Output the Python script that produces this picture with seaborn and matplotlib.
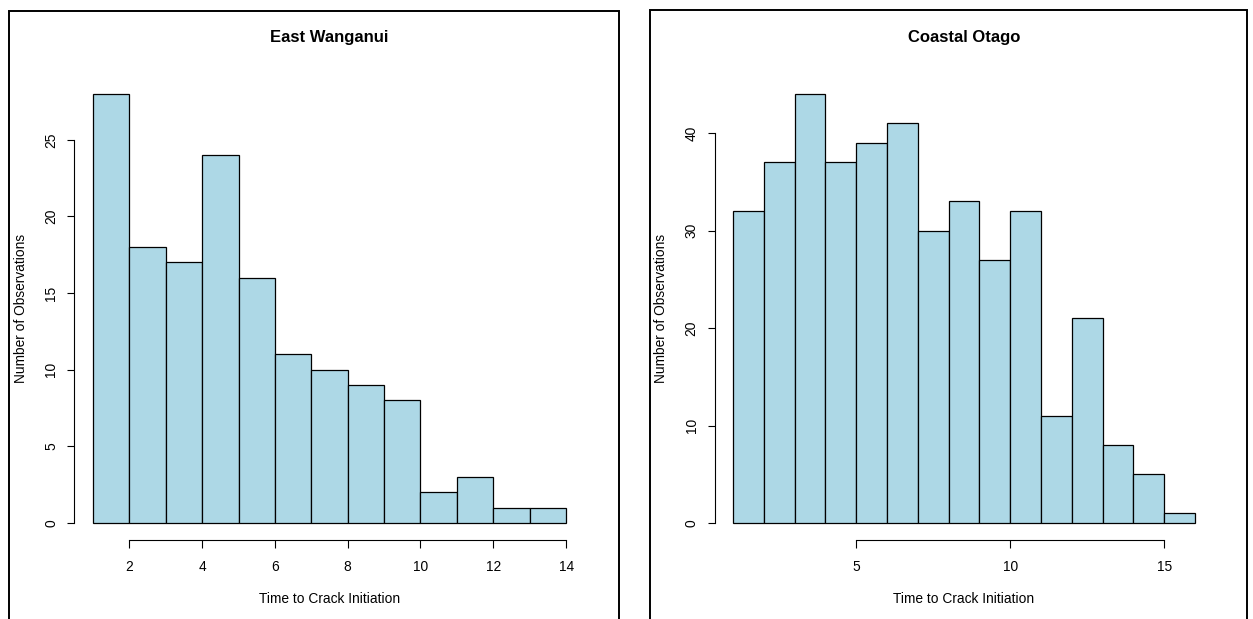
import matplotlib
matplotlib.use("Agg")
import matplotlib.pyplot as plt
from matplotlib.lines import Line2D
import seaborn as sns

# Bin edges (unit-width bins) and counts for each region
ew_edges = list(range(1, 15))
ew_counts = [28, 18, 17, 24, 16, 11, 10, 9, 8, 2, 3, 1, 1]
ew_xticks = [2, 4, 6, 8, 10, 12, 14]
ew_yticks = [0, 5, 10, 15, 20, 25]

co_edges = list(range(1, 17))
co_counts = [32, 37, 44, 37, 39, 41, 30, 33, 27, 32, 11, 21, 8, 5, 1]
co_xticks = [5, 10, 15]
co_yticks = [0, 10, 20, 30, 40]

titles = ["East Wanganui", "Coastal Otago"]
xlabel = "Time to Crack Initiation"
ylabel = "Number of Observations"

sns.set_theme(style="white")
plt.rcParams["font.family"] = ["Liberation Sans", "DejaVu Sans"]

W, H = 1253, 619
fig = plt.figure(figsize=(W / 100, H / 100), dpi=100)


def px_axes(left, right, top, bottom):
    return fig.add_axes([left / W, 1 - bottom / H, (right - left) / W, (bottom - top) / H])


def r_hist(ax, edges, counts, xticks, yticks, title, box):
    left, right, top, bottom = box
    centers = [(a + b) / 2 for a, b in zip(edges[:-1], edges[1:])]
    sns.histplot(x=centers, weights=counts, bins=edges, ax=ax,
                 color="#ADD8E6", edgecolor="black", linewidth=0.9, alpha=1)
    # R-style 4% padding of the data range
    xr = edges[-1] - edges[0]
    ymax = max(counts)
    ax.set_xlim(edges[0] - 0.04 * xr, edges[-1] + 0.04 * xr)
    ax.set_ylim(-0.04 * ymax, ymax * 1.04)
    for side in ("top", "right"):
        ax.spines[side].set_visible(False)
    for side in ("left", "bottom"):
        ax.spines[side].set_color("black")
        ax.spines[side].set_linewidth(0.8)
    ax.spines["bottom"].set_bounds(xticks[0], xticks[-1])
    ax.spines["left"].set_bounds(yticks[0], yticks[-1])
    ax.set_xticks(xticks)
    ax.set_yticks(yticks)
    ax.tick_params(axis="both", which="major", bottom=True, left=True,
                   direction="out", length=5.4, width=0.8,
                   color="black", labelsize=9.9, labelcolor="black")
    ax.tick_params(axis="x", pad=9.0)
    ax.tick_params(axis="y", pad=6.0)
    for lab in ax.get_yticklabels():
        lab.set_rotation(90)
        lab.set_va("center")
    h = bottom - top
    w = right - left
    ax.set_xlabel(xlabel, fontsize=9.9, color="black", va="center")
    ax.set_ylabel(ylabel, fontsize=9.9, color="black", va="center")
    ax.xaxis.set_label_coords(0.5, (bottom - 599) / h)
    ax.yaxis.set_label_coords((left - 53.4 - left) / w, 0.5)
    ax.set_title(title, fontsize=12, fontweight="bold", color="black",
                 y=(bottom - 45.5) / h, va="center")
    ax.grid(False)


box1 = (74.0, 585.0, 76.6, 540.3)
ax1 = px_axes(*box1)
r_hist(ax1, ew_edges, ew_counts, ew_xticks, ew_yticks, titles[0], box1)

box2 = (714.5, 1213.5, 76.8, 540.3)
ax2 = px_axes(*box2)
r_hist(ax2, co_edges, co_counts, co_xticks, co_yticks, titles[1], box2)

# Panel frames (open at the bottom edge of the figure)
for x0, x1, yt in [(8.5, 619.3, 11.0), (650.0, 1246.7, 10.0)]:
    fig.add_artist(Line2D([x0 / W, x0 / W, x1 / W, x1 / W],
                          [-0.02, 1 - yt / H, 1 - yt / H, -0.02],
                          transform=fig.transFigure, color="black",
                          linewidth=1.4, solid_joinstyle="miter"))

fig.savefig("out.png", dpi=100)
